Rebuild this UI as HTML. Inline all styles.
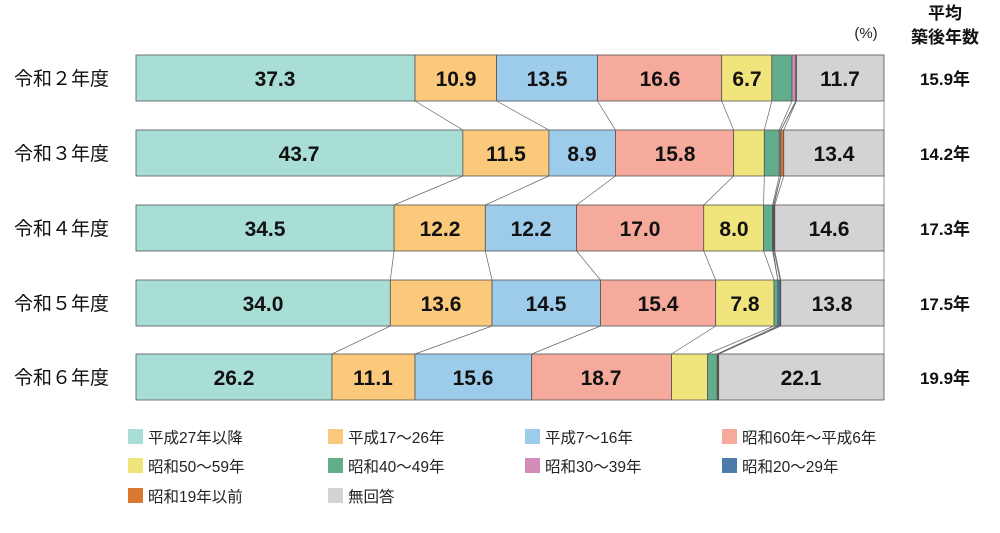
<!DOCTYPE html>
<html><head><meta charset="utf-8"><style>
body{margin:0;background:#fff}
svg text{font-family:"Liberation Sans","Noto Sans CJK JP",sans-serif}
.v{font-size:21px;font-weight:bold;text-anchor:middle;fill:#111}
.r{font-size:19px;fill:#111}
.a{font-size:17px;font-weight:bold;text-anchor:middle;fill:#111}
.l{font-size:15.5px;fill:#222}
</style></head><body>
<svg id="s" width="1000" height="528" viewBox="0 0 1000 528" xmlns="http://www.w3.org/2000/svg">
<g id="bars"></g>
<text x="866" y="38" font-size="15" text-anchor="middle" fill="#222">(%)</text>
<text x="945" y="19" class="a">平均</text>
<text x="945" y="43" class="a">築後年数</text>
<text x="14" y="85" class="r">令和２年度</text>
<text x="14" y="160" class="r">令和３年度</text>
<text x="14" y="235" class="r">令和４年度</text>
<text x="14" y="310" class="r">令和５年度</text>
<text x="14" y="384" class="r">令和６年度</text>
<text x="945" y="85" class="a">15.9年</text>
<text x="945" y="160" class="a">14.2年</text>
<text x="945" y="235" class="a">17.3年</text>
<text x="945" y="310" class="a">17.5年</text>
<text x="945" y="384" class="a">19.9年</text>
<g>
<text x="275" y="86" class="v">37.3</text><text x="456" y="86" class="v">10.9</text><text x="547" y="86" class="v">13.5</text><text x="660" y="86" class="v">16.6</text><text x="747" y="86" class="v">6.7</text><text x="840" y="86" class="v">11.7</text>
<text x="299" y="161" class="v">43.7</text><text x="506" y="161" class="v">11.5</text><text x="582" y="161" class="v">8.9</text><text x="675" y="161" class="v">15.8</text><text x="834" y="161" class="v">13.4</text>
<text x="265" y="236" class="v">34.5</text><text x="440" y="236" class="v">12.2</text><text x="531" y="236" class="v">12.2</text><text x="640" y="236" class="v">17.0</text><text x="734" y="236" class="v">8.0</text><text x="829" y="236" class="v">14.6</text>
<text x="263" y="311" class="v">34.0</text><text x="441" y="311" class="v">13.6</text><text x="546" y="311" class="v">14.5</text><text x="658" y="311" class="v">15.4</text><text x="745" y="311" class="v">7.8</text><text x="832" y="311" class="v">13.8</text>
<text x="234" y="385" class="v">26.2</text><text x="373" y="385" class="v">11.1</text><text x="473" y="385" class="v">15.6</text><text x="601" y="385" class="v">18.7</text><text x="801" y="385" class="v">22.1</text>
</g>
<g id="leg"></g>
<text x="148" y="443" class="l">平成27年以降</text>
<text x="348" y="443" class="l">平成17～26年</text>
<text x="545" y="443" class="l">平成7～16年</text>
<text x="742" y="443" class="l">昭和60年～平成6年</text>
<text x="148" y="472" class="l">昭和50～59年</text>
<text x="348" y="472" class="l">昭和40～49年</text>
<text x="545" y="472" class="l">昭和30～39年</text>
<text x="742" y="472" class="l">昭和20～29年</text>
<text x="148" y="502" class="l">昭和19年以前</text>
<text x="348" y="502" class="l">無回答</text>
</svg>
<script>
var C=["#a9ded6","#fbc97c","#9dcbea","#f5aa9c","#f0e47c","#62ad8c","#d48cb8","#4d7bab","#d9782f","#d3d3d3"];
var D=[[37.3,10.9,13.5,16.6,6.7,2.7,0.5,0.1,0,11.7],
[43.7,11.5,8.9,15.8,4.1,2.0,0.2,0,0.4,13.4],
[34.5,12.2,12.2,17.0,8.0,1.2,0.1,0.1,0.1,14.6],
[34.0,13.6,14.5,15.4,7.8,0.5,0,0.3,0.1,13.8],
[26.2,11.1,15.6,18.7,4.8,1.3,0.1,0.1,0,22.1]];
var Y=[55,130,205,280,354],H=46,S=7.48,X0=136,ns="http://www.w3.org/2000/svg";
var g=document.getElementById("bars");
function el(t,a){var e=document.createElementNS(ns,t);for(var k in a)e.setAttribute(k,a[k]);return e;}
var B=[];
D.forEach(function(r,i){var x=X0,b=[];r.forEach(function(v,j){var w=v*S;if(j==9)w=884-x;
if(w>0)g.appendChild(el("rect",{x:x,y:Y[i],width:w,height:H,fill:C[j],stroke:"#555","stroke-width":0.8}));x+=w;b.push(x);});B.push(b);});
for(var i=0;i<4;i++)for(var j=0;j<10;j++)g.appendChild(el("line",{x1:B[i][j],y1:Y[i]+H,x2:B[i+1][j],y2:Y[i+1],stroke:"#666","stroke-width":0.7}));
var L=document.getElementById("leg"),LX=[128,328,525,722],LY=[429,458,488];
for(var k=0;k<10;k++)L.appendChild(el("rect",{x:LX[k%4],y:LY[Math.floor(k/4)],width:15,height:15,fill:C[k]}));
</script>
</body></html>
